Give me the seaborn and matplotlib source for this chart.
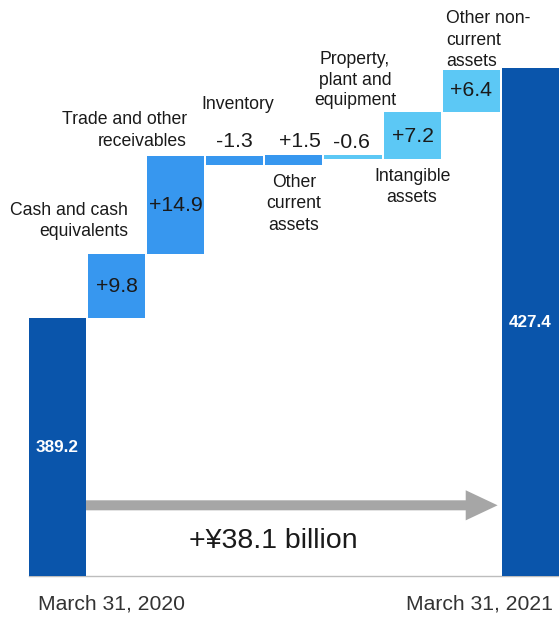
import matplotlib
matplotlib.use("Agg")
import matplotlib.pyplot as plt
import matplotlib.transforms as mtransforms
from matplotlib.patches import FancyArrow
import numpy as np
import pandas as pd
import seaborn as sns

# ---- data (¥ billion) ----
steps = [
    "March 31, 2020",
    "Cash and cash\nequivalents",
    "Trade and other\nreceivables",
    "Inventory",
    "Other\ncurrent\nassets",
    "Property,\nplant and\nequipment",
    "Intangible\nassets",
    "Other non-\ncurrent\nassets",
    "March 31, 2021",
]
start_total = 389.2
end_total = 427.4
changes = [9.8, 14.9, -1.3, 1.5, -0.6, 7.2, 6.4]
change_labels = ["+9.8", "+14.9", "-1.3", "+1.5", "-0.6", "+7.2", "+6.4"]
total_labels = ["389.2", "427.4"]
growth_label = "+¥38.1 billion"

# ---- waterfall geometry ----
bottoms = [0.0]
heights = [start_total]
level = start_total
for c in changes:
    bottoms.append(level)
    heights.append(c)
    level += c
bottoms.append(0.0)
heights.append(end_total)
df = pd.DataFrame({"step": steps, "height": heights, "bottom": bottoms})

DARK = "#0A55AB"
MID = "#3797EF"
LIGHT = "#5CC8F5"
bar_colors = [DARK, MID, MID, MID, MID, LIGHT, LIGHT, LIGHT, DARK]
TEXT = "#1A1A1A"

sns.set_style("white")
plt.rcParams["font.family"] = ["Liberation Sans", "DejaVu Sans"]

fig = plt.figure(figsize=(5.59, 6.19), dpi=100)
ax = fig.add_axes([0, 43 / 619, 1, 576 / 619])

bar_w = 0.965
sns.barplot(data=df, x="step", y="height", order=steps, color=DARK,
            width=bar_w, errorbar=None, bottom=df["bottom"].to_numpy(),
            linewidth=0, ax=ax)
for patch, col in zip(ax.patches, bar_colors):
    patch.set_facecolor(col)
    patch.set_edgecolor("none")

ax.set_ylim(349.8, 437.8)
ax.set_xlim(-0.973, 8.486)
ax.set_xticks([])
ax.set_yticks([])
ax.set_xlabel("")
ax.set_ylabel("")
for side in ["top", "left", "right"]:
    ax.spines[side].set_visible(False)
ax.spines["bottom"].set_color("#BDBDBD")
ax.spines["bottom"].set_linewidth(1.0)
ax.spines["bottom"].set_bounds(-0.48, 8.49)
ax.spines["bottom"].set_zorder(0.5)

tops = [max(b, b + h) for b, h in zip(bottoms, heights)]
lows = [min(b, b + h) for b, h in zip(bottoms, heights)]
mids = [b + h / 2 for b, h in zip(bottoms, heights)]

# category names around the change bars: (anchor, dx px, dy px, ha, line spacing)
name_layout = {
    1: ("top", 11.5, 33, "right", 1.35),
    2: ("top", 11.3, 26, "right", 1.32),
    3: ("top", 3, 52, "center", 1.3),
    4: ("low", 0, -39, "center", 1.35),
    5: ("top", 2, 75, "center", 1.25),
    6: ("low", 0, -28, "center", 1.25),
    7: ("top", -25, 30, "left", 1.38),
}
for i, (anchor, dx, dy, ha, ls) in name_layout.items():
    y = tops[i] if anchor == "top" else lows[i]
    ax.annotate(steps[i], xy=(i, y), xytext=(dx, dy), textcoords="offset pixels",
                ha=ha, va="center", fontsize=12.7, color=TEXT,
                linespacing=ls, multialignment=ha)

# change values: inside tall bars, above thin ones
value_layout = {
    1: ("mid", 0, 0),
    2: ("mid", 0, 0),
    3: ("top", 0, 15),
    4: ("top", 6, 14),
    5: ("top", -2, 13),
    6: ("mid", 1, -1),
    7: ("mid", 0, 0),
}
for i, (anchor, dx, dy) in value_layout.items():
    y = {"mid": mids[i], "top": tops[i]}[anchor]
    ax.annotate(change_labels[i - 1], xy=(i, y), xytext=(dx, dy),
                textcoords="offset pixels", ha="center", va="center",
                fontsize=15.3, color=TEXT)

# totals inside the dark bars
for i, lab in zip([0, 8], total_labels):
    val = heights[i]
    ax.text(i, (349.8 + val) / 2, lab, ha="center", va="center",
            fontsize=12.3, fontweight="bold", color="white")

# growth arrow between the two totals
arrow_y = 360.6
x0 = bar_w / 2
x1 = 8 - bar_w / 2 - 0.07
ax.add_patch(FancyArrow(x0, arrow_y, x1 - x0, 0, width=1.53, head_width=4.6,
                        head_length=0.54, length_includes_head=True,
                        color="#A6A6A6", linewidth=0, zorder=3))
ax.text(3.65, 355.1, growth_label, ha="center", va="center",
        fontsize=20.5, color=TEXT)

# date labels under the total bars
trans = mtransforms.blended_transform_factory(ax.transData, ax.transAxes)
ax.annotate(steps[0], xy=(0, 0), xycoords=trans, xytext=(-19.5, -28),
            textcoords="offset pixels", ha="left", va="center",
            fontsize=15.2, color="#333333", annotation_clip=False)
ax.annotate(steps[8], xy=(8, 0), xycoords=trans, xytext=(22.7, -28),
            textcoords="offset pixels", ha="right", va="center",
            fontsize=15.2, color="#333333", annotation_clip=False)

fig.savefig("out.png", dpi=100)
